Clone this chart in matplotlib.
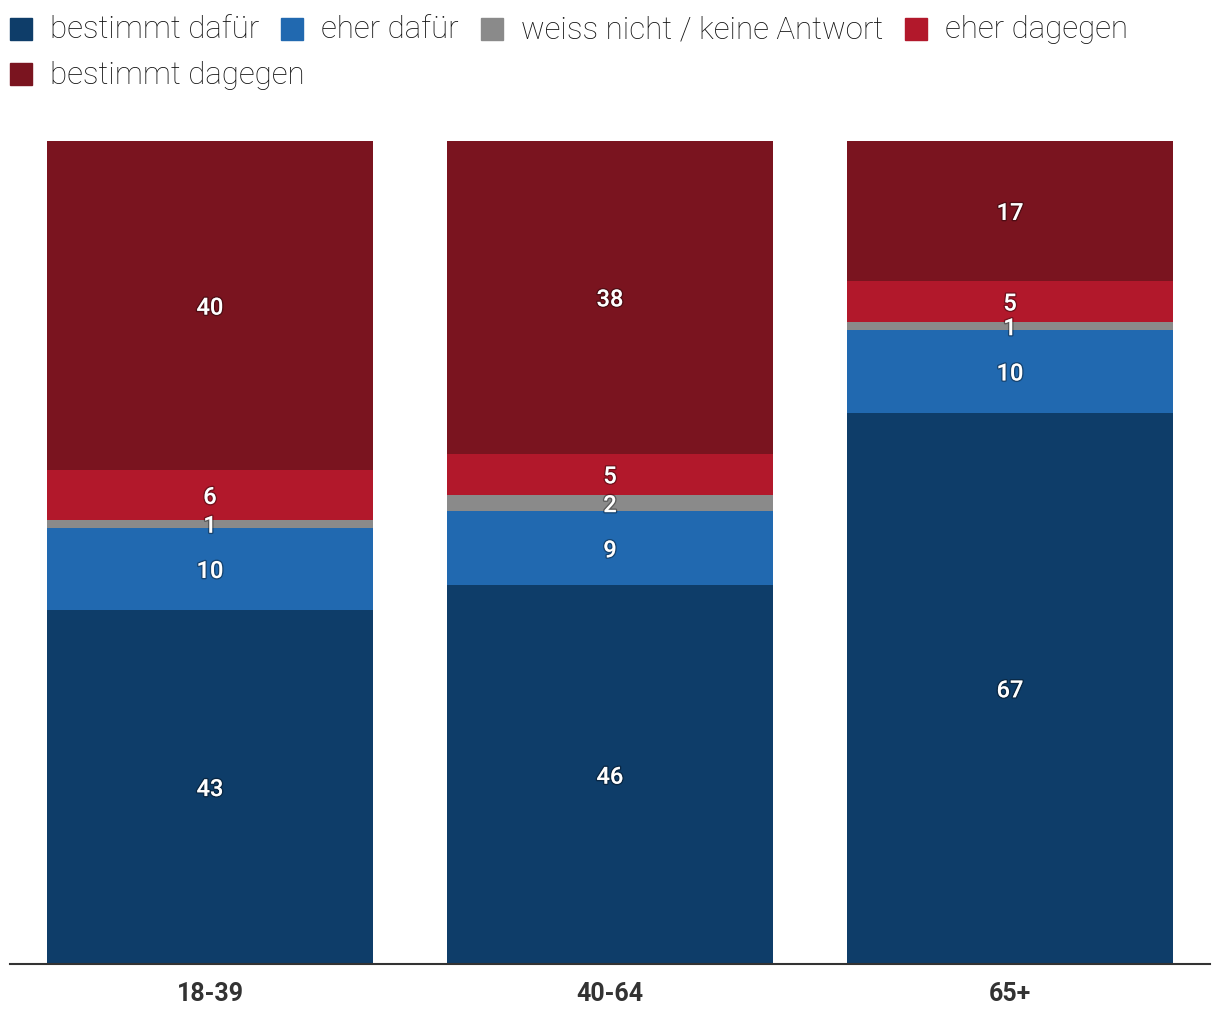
import matplotlib
matplotlib.use("Agg")
import matplotlib.pyplot as plt
import matplotlib.patheffects as pe
from matplotlib.patches import Rectangle
import numpy as np

plt.rcParams['font.family'] = ['Roboto', 'DejaVu Sans']

groups = ["18-39", "40-64", "65+"]
series_names = ["bestimmt dafür", "eher dafür", "weiss nicht / keine Antwort",
                "eher dagegen", "bestimmt dagegen"]
bestimmt_dafuer = [43, 46, 67]
eher_dafuer = [10, 9, 10]
weiss_nicht = [1, 2, 1]
eher_dagegen = [6, 5, 5]
bestimmt_dagegen = [40, 38, 17]
colors = ["#0e3d69", "#2169b0", "#8a8a8a", "#b2182b", "#7a141f"]

series = [bestimmt_dafuer, eher_dafuer, weiss_nicht, eher_dagegen, bestimmt_dagegen]

W, H = 1220, 1020
fig = plt.figure(figsize=(W / 100, H / 100), dpi=100)
ax = fig.add_axes([10 / W, 1 - 965 / H, 1200 / W, (965 - 142) / H])

x = np.arange(len(groups))
bottom = np.zeros(len(groups))
for vals, col in zip(series, colors):
    vals = np.array(vals, dtype=float)
    ax.bar(x, vals, bottom=bottom, width=0.815, color=col, edgecolor='none')
    for xi, b, v in zip(x, bottom, vals):
        t = ax.text(xi, b + v / 2, f"{int(v)}", ha='center', va='center_baseline',
                    color='white', fontsize=17, fontweight='medium')
        t.set_path_effects([pe.withStroke(linewidth=2, foreground=(0, 0, 0, 0.35))])
    bottom += vals

ax.set_xlim(-0.5, 2.5)
ax.set_ylim(0, 100)
for s in ['top', 'right', 'left']:
    ax.spines[s].set_visible(False)
ax.spines['bottom'].set_color('#333333')
ax.spines['bottom'].set_linewidth(1.5)
ax.set_yticks([])
ax.set_xticks(x)
ax.set_xticklabels(groups, fontsize=18, fontweight='semibold', color='#333333')
ax.tick_params(axis='x', length=0, pad=12)

# Legend laid out manually, wrapping like the reference
renderer = fig.canvas.get_renderer()
sq = 22
gap_sq_text = 18
gap_item = 22
xpos, ypos = 10, 30
row_h = 45
for name, col in zip(series_names, colors):
    t = fig.text(0, 0, name, fontsize=22.5, fontweight='light', color='#111111',
                 ha='left', va='center')
    bb = t.get_window_extent(renderer=renderer)
    item_w = sq + gap_sq_text + bb.width
    if xpos + item_w > W - 10:
        xpos = 10
        ypos += row_h
    fig.patches.append(Rectangle((xpos / W, 1 - (ypos + sq / 2) / H), sq / W, sq / H,
                                 transform=fig.transFigure, color=col))
    t.set_position(((xpos + sq + gap_sq_text) / W, 1 - ypos / H))
    xpos += item_w + gap_item

fig.savefig("out.png", dpi=100)
